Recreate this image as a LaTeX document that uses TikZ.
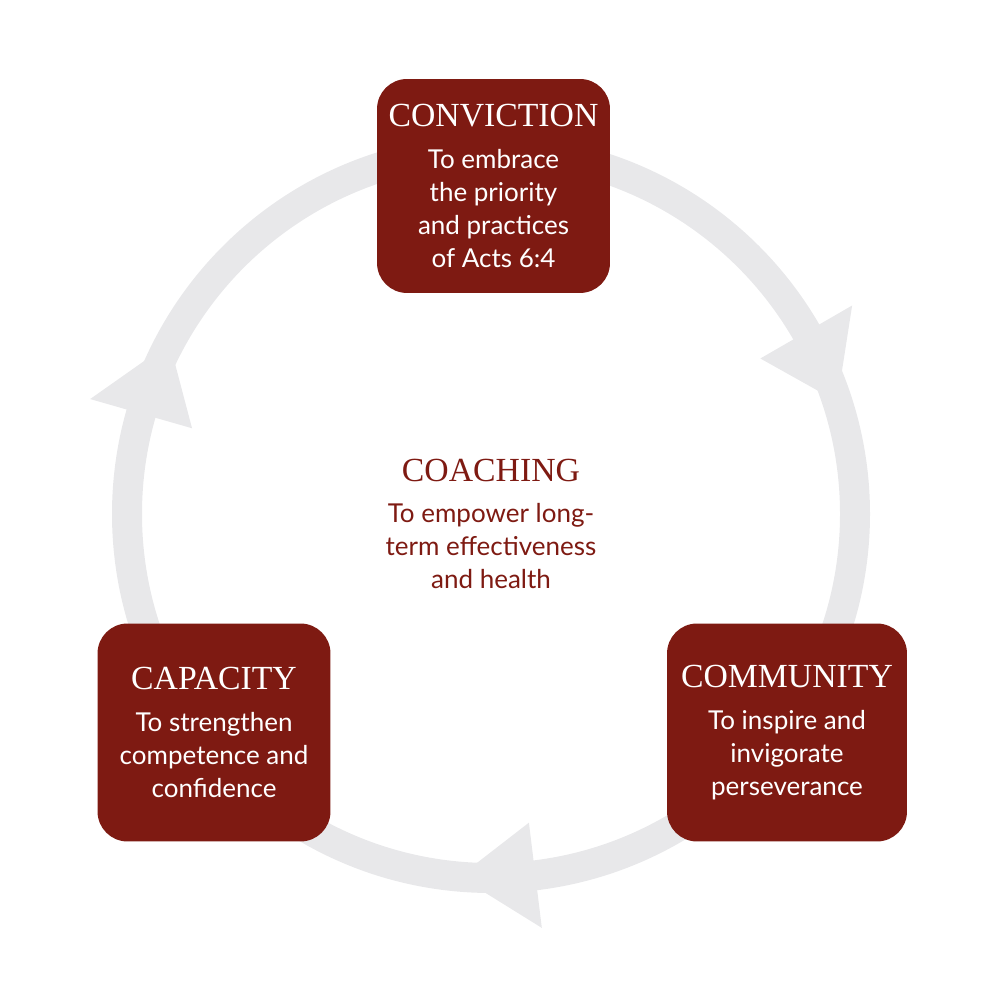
\documentclass[tikz,border=0pt]{standalone}
\usepackage{fontspec}
\setmainfont{Lato}
\newfontfamily\capsfont{Liberation Serif}
\usepackage{tikz}
\usetikzlibrary{calc}
\definecolor{brick}{RGB}{126,26,18}
\definecolor{ringgray}{RGB}{232,232,234}
\tikzstyle{ring} = [draw=ringgray, line width=0.6cm]
\tikzstyle{head} = [fill=ringgray]
\newcommand{\boxtitle}[1]{{\capsfont\fontsize{19.2}{19.2}\selectfont #1}}

\begin{document}
\begin{tikzpicture}[x=0.02cm, y=0.02cm,
        % Define a style for the three red stones
        stone/.style={fill=brick, text=white, rounded corners=0.6cm, minimum width=4.66cm, minimum height=4.36cm, align=center, inner sep=0pt, font=\fontsize{14.8}{18.8}\selectfont}
    ]
        \useasboundingbox (0,0) rectangle (1000,1000);

        % --- The cycle ring and its arrow heads ---
        \coordinate (c) at (491,486);
        \draw[ring] (c) circle[radius=364];
        \foreach \a [evaluate=\a as \b using \a-12] in {30,164,277} {
            \fill[head] ($(c)+(\a:417)$) -- ($(c)+(\a:311)$) -- ($(c)+(\b:364)$) -- cycle;
        }

        % --- The three stones at fixed positions ---
        \node (conviction) [stone, minimum height=4.28cm] at (493.5,814)
            {\boxtitle{CONVICTION}\\[5pt]To embrace\\the priority\\and practices\\of Acts 6:4};
        \node (capacity) [stone] at (214,267.5)
            {\boxtitle{CAPACITY}\\[5pt]To strengthen\\competence and\\confidence};
        \node (community) [stone, minimum width=4.8cm] at (787,267.5)
            {\boxtitle{COMMUNITY}\\[5pt]To inspire and\\invigorate\\perseverance};

        % --- Centre text ---
        \node (coaching) [text=brick, align=center, font=\fontsize{14.8}{18.8}\selectfont] at (491,476)
            {\boxtitle{COACHING}\\[5pt]To empower long-\\term effectiveness\\and health};
    \end{tikzpicture}
\end{document}
